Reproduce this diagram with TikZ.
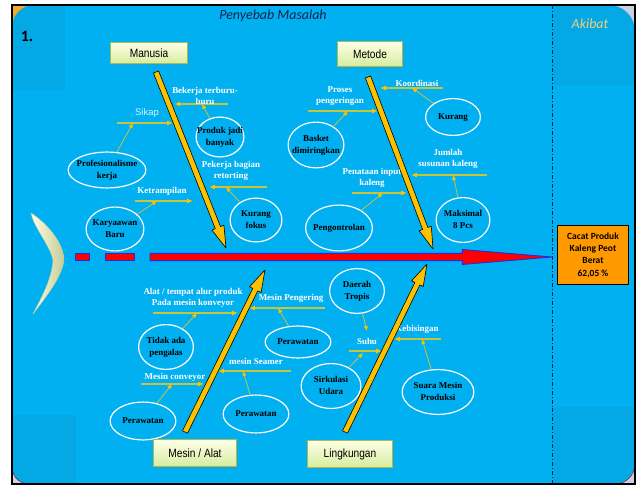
\documentclass[tikz,border=0pt]{standalone}
\usepackage{fontspec}
\setmainfont{Liberation Serif}
\setsansfont{Liberation Sans}
\newfontfamily\calibri{Carlito}
\newfontfamily\narrowsans[FakeStretch=0.85]{Liberation Sans}
\usetikzlibrary{calc,arrows.meta,shapes.geometric,shadows}

\definecolor{sky}{RGB}{0,176,240}
\definecolor{skydark}{RGB}{3,168,229}
\definecolor{bonecol}{RGB}{255,192,0}
\definecolor{ribcol}{RGB}{200,196,60}
\definecolor{lavender}{RGB}{205,205,228}
\definecolor{cornerorange}{RGB}{246,168,40}
\definecolor{boxline}{RGB}{160,190,90}
\definecolor{navy}{RGB}{20,35,80}
\definecolor{gold}{RGB}{242,208,125}
\definecolor{effectorange}{RGB}{255,153,0}
\definecolor{spineblue}{RGB}{40,40,230}

% text inside an oval, not widening the oval
\newcommand{\ovaltext}[1]{\smash{\makebox[0pt]{\raisebox{-2.5pt}{\begin{tabular}{@{}c@{}}#1\end{tabular}}}}}

% fat arrow: [style]{tail}{tip}{shaft half width}{head half width}{head length}
\newcommand{\fatarrow}[6][bone]{%
  \coordinate (fa-h) at ($(#3)!#6!(#2)$);
  \filldraw[#1] ($(#2)!#4!90:(#3)$) -- ($(fa-h)!#4!90:(#3)$) -- ($(fa-h)!#5!90:(#3)$) -- (#3)
    -- ($(fa-h)!#5!-90:(#3)$) -- ($(fa-h)!#4!-90:(#3)$) -- ($(#2)!#4!-90:(#3)$) -- cycle;}

\begin{document}
\begin{tikzpicture}[x=1bp, y=-1bp,
  oval/.style={ellipse, draw=white, line width=1.2pt, inner sep=0pt,
    font=\fontsize{9}{11.5}\selectfont\bfseries},
  rib/.style={ribcol, line width=1.1pt, -{Latex[length=6pt,width=5pt,color=bonecol]}},
  twig/.style={ribcol, line width=0.8pt, -{Latex[length=5pt,width=4.5pt,color=bonecol]}},
  cause/.style={white, align=center, inner sep=1pt, font=\fontsize{9}{11.5}\selectfont\bfseries},
  catbox/.style={draw=boxline, line width=0.8pt, top color=white!90!yellow,
    bottom color={rgb,255:red,214;green,236;blue,160},
    font=\narrowsans\fontsize{12}{14}\selectfont,
    drop shadow={shadow xshift=1.2pt, shadow yshift=-1.5pt, opacity=.35}},
  bone/.style={fill=bonecol, draw=black, line width=0.6pt, line join=round},
  spine/.style={fill=red, draw=spineblue, line width=0.9pt, line join=round},
  effect/.style={fill=effectorange, draw=black, line width=0.8pt, align=center,
    minimum width=72pt, minimum height=59pt, font=\calibri\bfseries\fontsize{9.5}{12.5}\selectfont}]

\useasboundingbox (0,0) rectangle (637,487);

% background panel
\fill[sky] (12,5) rectangle (635,484);
\fill[skydark] (12,5) rectangle (65,90);
\fill[skydark] (553,5) rectangle (635,85);
\fill[skydark] (12,415) rectangle (76,484);
\fill[skydark] (553,407) rectangle (635,484);
\fill[cornerorange] (12,5) -- (34,5) .. controls (21.9,5) and (12,14.9) .. (12,27) -- cycle;
\fill[lavender] (635,5) -- (635,31) .. controls (635,16.6) and (623.4,5) .. (609,5) -- cycle;
\filldraw[lavender, draw=red!50!black, line width=0.4pt] (12,484) -- (12,467) .. controls (12,476.4) and (19.6,484) .. (29,484) -- cycle;
\filldraw[lavender, draw=red!50!black, line width=0.4pt] (635,484) -- (615,484) .. controls (626,484) and (635,475) .. (635,464) -- cycle;
\draw[black, line width=1.2pt] (12,5) rectangle (635,484);

\coordinate (div-top) at (552,5);
\coordinate (div-bot) at (552,484);
\draw[navy, line width=0.8pt, dash pattern=on 4pt off 2pt on 1pt off 2pt] (div-top) -- (div-bot);

\node[font=\calibri\bfseries\fontsize{16}{18}\selectfont] (nomor) at (27,36) {1.};
\node[navy, font=\calibri\itshape\fontsize{14}{16}\selectfont] (penyebab) at (273,16) {Penyebab Masalah};
\node[gold, font=\calibri\itshape\fontsize{14}{16}\selectfont] (akibat-t) at (590,24) {Akibat};

% head of the fish
\shade[left color=white!90!yellow, right color={rgb,255:red,196;green,204;blue,150}, draw={rgb,255:red,200;green,206;blue,160}, line width=0.4pt]
  (31,213) .. controls (45,222) and (62,240) .. (64,258) .. controls (64,275) and (45,298) .. (33,314)
  .. controls (40,300) and (52,280) .. (53,260) .. controls (50,245) and (34,228) .. (31,213);

% spine
\coordinate (tail) at (150,257);
\coordinate (tip) at (552,257);
\foreach \xa/\xb in {75/89,105/134}
  \filldraw[spine] (\xa,253.4) rectangle (\xb,260.6);
\fatarrow[spine]{tail}{tip}{3.6pt}{7.5pt}{90pt}

% ribs
\foreach \name/\xa/\xb/\y in {bekerja/228/174/104, sikap/117/173/123, pekerja/267/209/187, ketram/135/193/201,
    koord/443/380/88, proses/308/378/111, jumlah/487/411/175, penataan/352/407/193,
    alat/153/238/313, pengering/325/249/308, conveyor/141/204/384, seamer/291/218/371,
    suhu/349/382/351, bising/441/394/339}
{
  \coordinate (\name-a) at (\xa,\y);
  \coordinate (\name-b) at (\xb,\y);
  \path[rib] (\name-a) edge (\name-b);
}

% ovals
\foreach \name/\x/\y/\w/\h/\txt in {
    prof/107/170/78/36/{Profesionalisme\\kerja}, kary/115/229/58/44/{Karyaawan\\Baru},
    produk/220/137/48/40/{Produk jadi\\banyak}, fokus/256/220/52/44/{Kurang\\fokus},
    basket/316/145/56/46/{Basket\\dimiringkan}, kurang/453/117/55/37/{Kurang},
    kontrol/339/228/67/46/{Pengontrolan}, maks/463/220/54/45/{Maksimal\\8 Pcs},
    pengalas/166/347/55/45/{Tidak ada\\pengalas}, rawatA/143/421/66/38/{Perawatan},
    rawatB/256/414/66/38/{Perawatan}, rawatC/298/342/66/32/{Perawatan},
    tropis/357/291/55/45/{Daerah\\Tropis}, udara/331/386/60/45/{Sirkulasi\\Udara},
    suara/438/392/72/45/{Suara Mesin\\Produksi}}
  \node[oval, minimum width=\w pt, minimum height=\h pt] (\name) at (\x,\y) {\ovaltext{\txt}};

% twigs
\foreach \name/\x/\y in {t-sikap/133/123, t-bekerja/202/104, t-ketram/157/201, t-pekerja/226/187,
    t-koord/412/88, t-proses/348/111, t-jumlah/453/175, t-penataan/383/193,
    t-alat/197/313, t-pengering/278/308, t-conveyor/172/384, t-seamer/243/371,
    t-suhu/367/331, t-suhu2/363/353, t-bising/422/339}
  \coordinate (\name) at (\x,\y);

\path[twig] (prof) edge (t-sikap)
            (produk) edge (t-bekerja)
            (kary) edge (t-ketram)
            (fokus) edge (t-pekerja)
            (kurang) edge (t-koord)
            (basket) edge (t-proses)
            (maks) edge (t-jumlah)
            (kontrol) edge (t-penataan)
            (pengalas) edge (t-alat)
            (rawatC) edge (t-pengering)
            (rawatA) edge (t-conveyor)
            (rawatB) edge (t-seamer)
            (tropis) edge (t-suhu)
            (udara) edge (t-suhu2)
            (suara) edge (t-bising);

% cause labels
\node[cause] (l-bekerja) at (205,96) {Bekerja terburu-\\buru};
\node[cause, text=white!85!sky, font=\sffamily\fontsize{9.5}{11}\selectfont] (l-sikap) at (147,113) {Sikap};
\node[cause] (l-pekerja) at (231,171) {Pekerja bagian\\retorting};
\node[cause] (l-ketram) at (162,191) {Ketrampilan};
\node[cause] (l-koord) at (417,83) {Koordinasi};
\node[cause] (l-proses) at (340,96) {Proses\\pengeringan};
\node[cause] (l-jumlah) at (448,159) {Jumlah\\susunan kaleng};
\node[cause] (l-penataan) at (372,178) {Penataan input\\kaleng};
\node[cause] (l-alat) at (193,298) {Alat / tempat\ alur produk\\Pada mesin konveyor};
\node[cause] (l-pengering) at (291,298) {Mesin Pengering};
\node[cause] (l-conveyor) at (175,377) {Mesin conveyor};
\node[cause] (l-seamer) at (256,361) {mesin Seamer};
\node[cause] (l-suhu) at (367,341) {Suhu};
\node[cause] (l-bising) at (417,329) {Kebisingan};

% bones
\coordinate (manusia-t) at (156,72);  \coordinate (manusia-h) at (226,248);
\coordinate (metode-t) at (368,77);   \coordinate (metode-h) at (433,249);
\coordinate (mesin-t) at (185,432);   \coordinate (mesin-h) at (265,270);
\coordinate (lingk-t) at (345,432);   \coordinate (lingk-h) at (427,264);
\foreach \b in {manusia,metode,mesin,lingk}
  {\fatarrow{\b-t}{\b-h}{2.8pt}{6.5pt}{22pt}}

% categories
\node[catbox, minimum width=78pt, minimum height=21pt] (manusia) at (149,53) {Manusia};
\node[catbox, minimum width=66pt, minimum height=25pt] (metode) at (370,54) {Metode};
\node[catbox, minimum width=84pt, minimum height=27pt] (mesin) at (195,453) {Mesin / Alat};
\node[catbox, minimum width=85pt, minimum height=27pt] (lingkungan) at (350,454) {Lingkungan};

% effect
\node[effect] (akibat) at (593,255) {Cacat Produk\\Kaleng Peot\\Berat\\62,05 \%};
\end{tikzpicture}
\end{document}
